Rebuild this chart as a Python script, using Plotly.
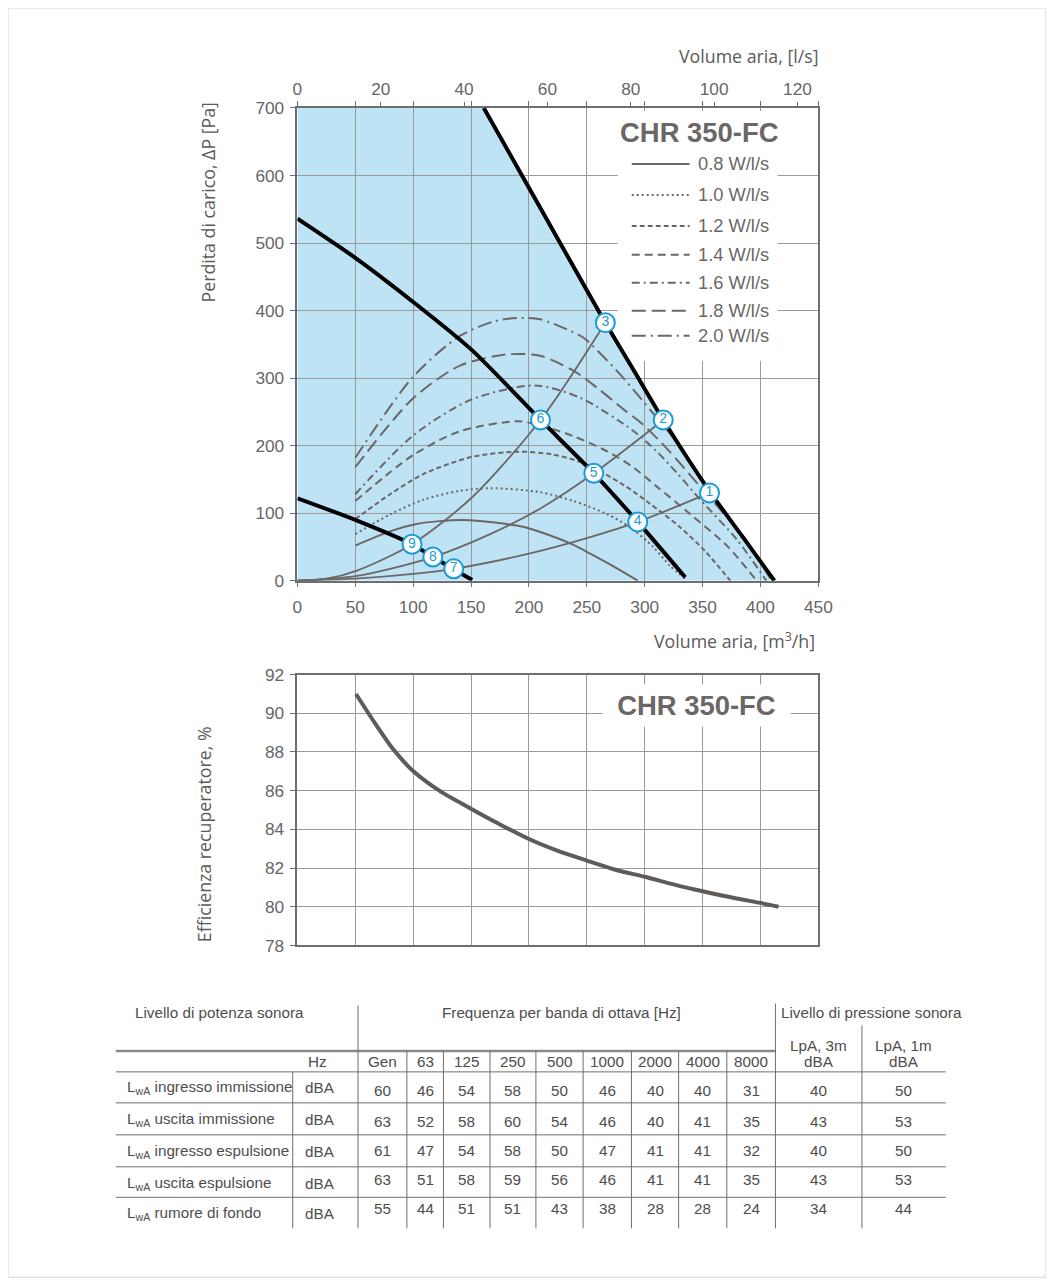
import plotly.graph_objects as go

# figure size; the page photo shows the figure at a slight offset and scale,
# so layout pixel positions are mapped through OX/OY/SX/SY
W, H = 1054, 1284
OX, OY = 12.0, 17.0
SX, SY = 0.984, 0.985
FS = 1 / SX

# ---------------- data : pressure chart (flow m3/h, pressure Pa) ----------------
flow_max = [161, 193, 224, 250, 266, 290, 316, 357, 385, 412]
dp_max = [700, 603, 509, 430, 382, 313, 238, 130, 64, 0]
flow_mid = [0, 50, 99, 151, 210, 256, 294, 335]
dp_mid = [536, 478, 414, 341, 238, 159, 87, 5]
flow_min = [0, 51.5, 99, 117, 135, 151]
dp_min = [122, 89, 54, 35, 17, 1]

sys_flow_a = [0, 50, 100, 135, 200, 250, 294, 356]
sys_dp_a = [0, 3, 10, 17.5, 40, 63, 87, 130]
sys_flow_b = [0, 51.5, 117, 166.5, 210, 256, 316]
sys_dp_b = [0, 7, 35, 69, 107, 159, 238]
sys_flow_c = [0, 25, 51.5, 99, 150, 210, 266]
sys_dp_c = [0, 3, 15, 54, 122, 238, 382]

sfp_labels = ["0.8 W/l/s", "1.0 W/l/s", "1.2 W/l/s", "1.4 W/l/s", "1.6 W/l/s", "1.8 W/l/s", "2.0 W/l/s"]
f08_x = [50, 80, 103, 143.5, 195, 210, 238.5, 253, 270, 294]
f08_y = [52, 73, 84, 90, 80, 72, 53, 40, 24, 0]
f10_x = [50, 80, 109, 140, 166.5, 209.7, 238.4, 267, 287.3, 307.4, 321.8, 335]
f10_y = [69, 98, 120, 133, 137, 131, 118, 99, 79, 50, 22, 3]
f12_x = [50, 80, 109, 150, 190, 220, 247, 281.5, 304.6, 330, 352, 374]
f12_y = [91, 128, 158, 183, 191, 187, 174, 142, 114, 80, 44, 0]
f14_x = [50, 100, 140, 190, 209.7, 238.4, 267, 290, 310, 339, 372, 396.6]
f14_y = [118, 186, 221, 236, 230, 214, 192, 168, 140, 99, 50, 0]
f16_x = [50, 100, 150, 205, 244, 290, 310, 327.6, 348, 380, 405]
f16_y = [128, 215, 268, 289, 271, 222, 192, 160, 120, 60, 0]
f18_x = [50, 100, 140, 181, 209.7, 238.4, 258.6, 281.5, 298, 320, 346, 365, 382.4, 396, 409.6]
f18_y = [168, 270, 318, 335, 333, 311, 286, 254, 232, 194, 143, 106, 71, 38, 0]
f20_x = [50, 100, 140, 170, 190, 209.7, 235.5, 247, 275.8, 296, 310, 330, 347.7, 365, 382, 398, 411]
f20_y = [182, 302, 362, 384, 389, 387, 370, 360, 311, 271, 242, 200, 153, 112, 69, 35, 0]

point_flow = [356, 316, 266, 294, 256, 210, 135, 117, 99]
point_dp = [130, 238, 382, 87, 159, 238, 17.5, 35, 54]
point_labels = ["1", "2", "3", "4", "5", "6", "7", "8", "9"]

# ---------------- data : efficiency chart ----------------
eff_flow = [50.6, 68, 82.6, 99.7, 122.6, 149.9, 173.6, 200, 224.5, 249.3, 275.5, 299.9, 326.4, 350, 377.4, 400, 415.6]
eff_value = [91.0, 89.4, 88.15, 87.03, 86.0, 85.07, 84.3, 83.5, 82.9, 82.4, 81.9, 81.55, 81.13, 80.8, 80.45, 80.2, 80.0]

# ---------------- data : sound table ----------------
row_names = ["ingresso immissione", "uscita immissione", "ingresso espulsione", "uscita espulsione", "rumore di fondo"]
band_labels = ["Gen", "63", "125", "250", "500", "1000", "2000", "4000", "8000"]
band_values = [
    [60, 46, 54, 58, 50, 46, 40, 40, 31],
    [63, 52, 58, 60, 54, 46, 40, 41, 35],
    [61, 47, 54, 58, 50, 47, 41, 41, 32],
    [63, 51, 58, 59, 56, 46, 41, 41, 35],
    [55, 44, 51, 51, 43, 38, 28, 28, 24],
]
lpa_3m = [40, 43, 40, 43, 34]
lpa_1m = [50, 53, 50, 53, 44]

# ---------------- layout helpers (pixel geometry) ----------------
PX_L, PX_R = 297, 819
TOP_T, TOP_B = 107, 580
BOT_T, BOT_B = 674, 945
FLOW_RANGE = [0, 450]
DP_RANGE = [0, 700]


def fx(px):
    return (px - PX_L) / (PX_R - PX_L) * FLOW_RANGE[1]


def fy(py):
    return (TOP_B - py) / (TOP_B - TOP_T) * DP_RANGE[1]


def pxp(px):
    return ((px - OX) / SX) / W


def pyp(py):
    return 1 - ((py - OY) / SY) / H


def fnt(family, size, color):
    return dict(family=family, size=round(size * FS, 2), color=color)


GREY = "#6b6766"
GRID = "#9a9a9a"
AXIS = "#6e6e6e"
TICK = "#666666"
BLUE = "#bee3f5"
MARK = "#1d9ad8"
TICKFONT = fnt("Liberation Sans, Arial", 17, TICK)
TITLEFONT = fnt("Open Sans, Noto Sans", 17.5, "#5a5a5a")
TABFONT = fnt("Liberation Sans Narrow, Liberation Sans", 15, "#4d4d4d")

fig = go.Figure()

# system curves
for xs, ys in [(sys_flow_a, sys_dp_a), (sys_flow_b, sys_dp_b), (sys_flow_c, sys_dp_c)]:
    fig.add_trace(go.Scatter(x=xs, y=ys, mode="lines", showlegend=False, hoverinfo="skip",
                             line=dict(color=GREY, width=1.8, shape="spline", smoothing=0.8)))

# fan curves at constant specific fan power
dashes = ["solid", "2px,3px", "5px,3px", "8px,5px", "8px,4px,2px,4px", "14px,6px", "14px,5px,2px,5px"]
fan_x = [f08_x, f10_x, f12_x, f14_x, f16_x, f18_x, f20_x]
fan_y = [f08_y, f10_y, f12_y, f14_y, f16_y, f18_y, f20_y]
for xs, ys, dsh, name in zip(fan_x, fan_y, dashes, sfp_labels):
    fig.add_trace(go.Scatter(x=xs, y=ys, mode="lines", name=name, showlegend=False, hoverinfo="skip",
                             line=dict(color=GREY, width=2, dash=dsh, shape="spline", smoothing=0.8)))

# duct characteristic curves (black)
for xs, ys in [(flow_max, dp_max), (flow_mid, dp_mid), (flow_min, dp_min)]:
    fig.add_trace(go.Scatter(x=xs, y=ys, mode="lines", showlegend=False, hoverinfo="skip",
                             line=dict(color="#000000", width=4, shape="spline", smoothing=0.7)))

# numbered working points
fig.add_trace(go.Scatter(x=point_flow, y=point_dp, mode="markers+text", text=point_labels,
                         textposition="middle center", showlegend=False, hoverinfo="skip", cliponaxis=False,
                         marker=dict(size=19, color="white", line=dict(color=MARK, width=2)),
                         textfont=dict(family="Liberation Sans, Arial", size=14, color=MARK)))

# legend samples (drawn inside the white legend box)
leg_rows = [163, 194, 225, 254, 282, 310, 335]
for py, dsh in zip(leg_rows, dashes):
    fig.add_trace(go.Scatter(x=[fx(632), fx(690)], y=[fy(py), fy(py)], mode="lines", showlegend=False,
                             hoverinfo="skip", line=dict(color=GREY, width=2, dash=dsh)))

# invisible trace to drive the l/s axis
fig.add_trace(go.Scatter(x=[f / 3.6 for f in flow_max], y=dp_max, xaxis="x2", yaxis="y", mode="lines",
                         opacity=0, showlegend=False, hoverinfo="skip", line=dict(width=1)))

# efficiency curve
fig.add_trace(go.Scatter(x=eff_flow, y=eff_value, xaxis="x3", yaxis="y2", mode="lines", showlegend=False,
                         hoverinfo="skip", line=dict(color="#5f5b59", width=4, shape="spline", smoothing=0.8)))

# ---------------- shapes ----------------
shapes = []
# light blue operating area, bounded by the maximum curve
path = "M 0,0 L 0,%g " % DP_RANGE[1] + " ".join("L %g,%g" % (a, b) for a, b in zip(flow_max, dp_max)) + " Z"
shapes.append(dict(type="path", path=path, xref="x", yref="y", fillcolor=BLUE, line=dict(width=0), layer="below"))
# white legend box over the grid
box = [(618, 110), (778, 110), (778, 360), (628, 360), (618, 343)]
bpath = "M " + " L ".join("%g,%g" % (fx(a), fy(b)) for a, b in box) + " Z"
shapes.append(dict(type="path", path=bpath, xref="x", yref="y", fillcolor="white", line=dict(width=0),
                   layer="between"))
# page frame
shapes.append(dict(type="rect", xref="paper", yref="paper", x0=pxp(7), x1=pxp(1047), y0=pyp(1277), y1=pyp(7),
                   line=dict(color="#d9d5d0", width=1)))

# table rules
TL = "#6e6e6e"


def hline(y, x0, x1, w=1, c=TL):
    shapes.append(dict(type="line", xref="paper", yref="paper", x0=pxp(x0), x1=pxp(x1), y0=pyp(y), y1=pyp(y),
                       line=dict(color=c, width=w)))


def vline(x, y0, y1, w=1, c=TL):
    shapes.append(dict(type="line", xref="paper", yref="paper", x0=pxp(x), x1=pxp(x), y0=pyp(y0), y1=pyp(y1),
                       line=dict(color=c, width=w)))


hline(1050.7, 115, 776, w=2.5, c="#8a8a8a")
for y in [1071.5, 1102.5, 1134.5, 1166.5, 1197]:
    hline(y, 115, 946.7)
vline(357.7, 1005, 1228)
vline(292.3, 1071.5, 1228)
col_edges = [357.7, 406.7, 443.3, 490, 536, 583.3, 631.7, 679, 727.3, 776]
for x in col_edges[1:-1]:
    vline(x, 1050.7, 1228)
vline(776, 1003, 1228)
vline(862.7, 1025, 1228)

# ---------------- annotations ----------------
ann = []


def text(x, y, s, font, xanchor="center", **kw):
    ann.append(dict(x=pxp(x), y=pyp(y), xref="paper", yref="paper", text=s, showarrow=False, font=font,
                    xanchor=xanchor, yanchor="middle", **kw))


text(822, 55, "Volume aria, [l/s]", TITLEFONT, xanchor="right")
text(818, 640, "Volume aria, [m<sup>3</sup>/h]", TITLEFONT, xanchor="right")
text(207, 202, "Perdita di carico, \u0394P [Pa]", TITLEFONT, textangle=-90)
text(203, 834, "Efficienza recuperatore, %", TITLEFONT, textangle=-90)

BIG = fnt("Liberation Sans, Arial", 27, GREY)
text(700, 132, "<b>CHR 350-FC</b>", BIG)
LEGFONT = fnt("Liberation Sans, Arial", 18, GREY)
for py, name in zip(leg_rows, sfp_labels):
    text(696, py, name, LEGFONT, xanchor="left")
text(697, 705, "<b>CHR 350-FC</b>", BIG, bgcolor="white", width=185, height=39)

# table texts
text(132, 1012, "Livello di potenza sonora", TABFONT, xanchor="left")
text(562, 1012, "Frequenza per banda di ottava [Hz]", TABFONT)
text(780, 1012, "Livello di pressione sonora", TABFONT, xanchor="left")
text(317, 1061, "Hz", TABFONT)
col_centers = [(a + b) / 2 for a, b in zip(col_edges[:-1], col_edges[1:])]
for cx, lab in zip(col_centers, band_labels):
    text(cx, 1061, lab, TABFONT)
lpa_centers = [819.4, 904.7]
for cx, lab in zip(lpa_centers, ["LpA, 3m", "LpA, 1m"]):
    text(cx, 1045, lab, TABFONT)
    text(cx, 1061, "dBA", TABFONT)
label_y = [1087, 1119, 1151, 1183, 1213]
value_y = [1090, 1121, 1150, 1179, 1208]
for i, name in enumerate(row_names):
    text(124, label_y[i], "L<sub>wA</sub> " + name, TABFONT, xanchor="left")
    text(320, label_y[i], "dBA", TABFONT)
    for cx, v in zip(col_centers, band_values[i]):
        text(cx, value_y[i], str(v), TABFONT)
    text(lpa_centers[0], value_y[i], str(lpa_3m[i]), TABFONT)
    text(lpa_centers[1], value_y[i], str(lpa_1m[i]), TABFONT)

# ---------------- axes ----------------
common = dict(showgrid=True, gridcolor=GRID, gridwidth=1, showline=True, linecolor=AXIS, linewidth=1.5,
              zeroline=False, tickfont=TICKFONT, ticks="outside", tickcolor=AXIS, ticklen=5)
xdom = [pxp(PX_L), pxp(PX_R)]
fig.update_layout(
    width=W, height=H, autosize=False,
    margin=dict(l=0, r=0, t=0, b=0, pad=0),
    paper_bgcolor="white", plot_bgcolor="white",
    showlegend=False,
    xaxis=dict(common, domain=xdom, range=FLOW_RANGE, dtick=50, tick0=0, anchor="y", mirror="ticks",
               ticklabelstandoff=5),
    xaxis2=dict(overlaying="x", side="top", anchor="y", range=[0, FLOW_RANGE[1] / 3.6], dtick=20, tick0=0,
                showgrid=False, showline=False, zeroline=False, ticks="outside", ticklen=5, tickcolor=AXIS,
                tickfont=TICKFONT),
    yaxis=dict(common, domain=[pyp(TOP_B), pyp(TOP_T)], range=DP_RANGE, dtick=100, tick0=0, anchor="x",
               mirror=True, ticklen=6, ticklabelstandoff=2),
    xaxis3=dict(common, domain=xdom, range=FLOW_RANGE, dtick=50, tick0=0, anchor="y2", mirror=True,
                showticklabels=False, ticks=""),
    yaxis2=dict(common, domain=[pyp(BOT_B), pyp(BOT_T)], range=[78, 92], dtick=2, tick0=78, anchor="x3",
                mirror=True, ticklen=6, ticklabelstandoff=2),
    shapes=shapes,
    annotations=ann,
)

fig.write_html("out.html")
